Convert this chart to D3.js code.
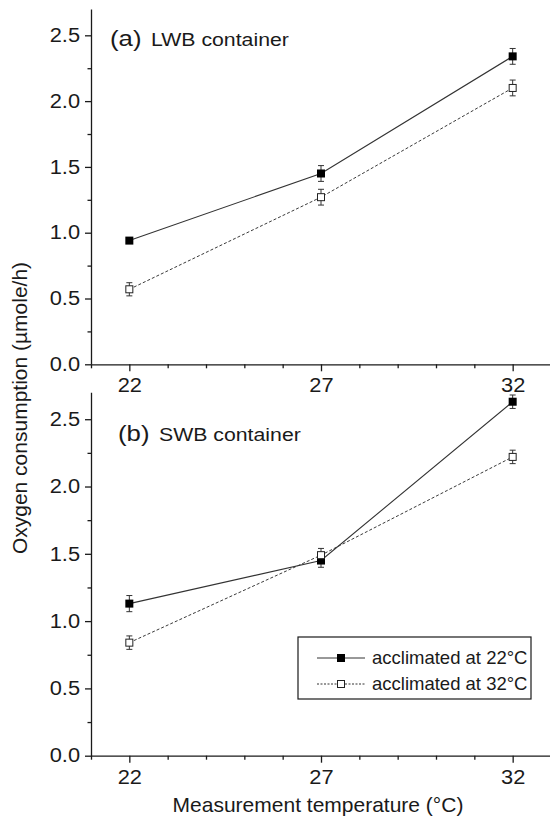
<!DOCTYPE html>
<html>
<head>
<meta charset="utf-8">
<script src="https://cdn.jsdelivr.net/npm/d3@7"></script>
<style>
  html, body { margin: 0; padding: 0; background: #fff; }
  svg { display: block; font-family: "Liberation Sans", Arial, Helvetica, sans-serif; }
</style>
</head>
<body>
<svg id="chart" width="550" height="820"></svg>
<script>
// Measurement temperatures (°C)
const temps = [22, 27, 32];

// (a) LWB container — oxygen consumption (µmole/h) and error
const lwbAcc22 = [0.94, 1.45, 2.34];
const lwbAcc22Err = [0.02, 0.06, 0.06];
const lwbAcc32 = [0.57, 1.27, 2.10];
const lwbAcc32Err = [0.05, 0.06, 0.06];

// (b) SWB container
const swbAcc22 = [1.13, 1.45, 2.63];
const swbAcc22Err = [0.06, 0.05, 0.05];
const swbAcc32 = [0.84, 1.49, 2.22];
const swbAcc32Err = [0.05, 0.05, 0.05];

const xMajorTicks = [22, 27, 32];
const xMinorTicks = [21, 23, 24, 25, 26, 28, 29, 30, 31, 33];
const yMajorTicks = [0, 0.5, 1.0, 1.5, 2.0, 2.5];
const yMinorTicks = [0.25, 0.75, 1.25, 1.75, 2.25];

const legendLabels = ["acclimated at 22°C", "acclimated at 32°C"];

const svg = d3.select("#chart");
const ink = "#1a1a1a";
const stretch = 1.12;

const x = d3.scaleLinear().domain([21, 33]).range([91, 551]);

const panels = [
  { label: "(a)", name: "LWB container", top: 9, bottom: 364.3,
    s22: lwbAcc22, e22: lwbAcc22Err, s32: lwbAcc32, e32: lwbAcc32Err, tag: [110, 46] },
  { label: "(b)", name: "SWB container", top: 392.3, bottom: 755.7,
    s22: swbAcc22, e22: swbAcc22Err, s32: swbAcc32, e32: swbAcc32Err, tag: [118, 441] }
];

function stretchedText(parent, tx, ty, txt, size, sx) {
  return parent.append("text")
    .attr("transform", `translate(${tx},${ty}) scale(${sx},1)`)
    .attr("font-size", size)
    .attr("fill", ink)
    .text(txt);
}

panels.forEach(p => {
  const y = d3.scaleLinear().domain([0, 2.7]).range([p.bottom, p.top]);
  const g = svg.append("g");

  // y axis: minor then major
  g.append("g").attr("transform", "translate(91,0)")
    .call(d3.axisLeft(y).tickValues(yMinorTicks).tickSize(3.5).tickFormat(""))
    .call(a => a.select(".domain").remove());
  const ya = g.append("g").attr("transform", "translate(91,0)")
    .call(d3.axisLeft(y).tickValues(yMajorTicks).tickSizeInner(6).tickSizeOuter(0)
      .tickPadding(3.8).tickFormat(d3.format(".1f")));
  ya.selectAll("text").attr("font-size", 19.5).attr("font-family", null)
    .attr("fill", ink).attr("transform", `scale(${stretch},1)`);

  // x axis: minor then major
  g.append("g").attr("transform", `translate(0,${p.bottom})`)
    .call(d3.axisBottom(x).tickValues(xMinorTicks).tickSize(4).tickFormat(""))
    .call(a => a.select(".domain").remove());
  const xa = g.append("g").attr("transform", `translate(0,${p.bottom})`)
    .call(d3.axisBottom(x).tickValues(xMajorTicks).tickSizeInner(7).tickSizeOuter(0)
      .tickPadding(7.2).tickFormat(d3.format("d")));
  xa.selectAll("text").attr("font-size", 19.5).attr("font-family", null)
    .attr("fill", ink).attr("transform", `scale(${stretch},1)`);

  g.selectAll(".domain, .tick line").attr("stroke", ink).attr("stroke-width", 1.3);

  // panel tag
  stretchedText(g, p.tag[0], p.tag[1], p.label, 23, 1.12);
  stretchedText(g, p.tag[0] + 41, p.tag[1], p.name, 18.5, 1.15);

  const line = d3.line().x((d, i) => x(temps[i])).y(d => y(d));

  g.append("path").datum(p.s32).attr("d", line)
    .attr("fill", "none").attr("stroke", "#3a3a3a").attr("stroke-width", 1)
    .attr("stroke-dasharray", "3,2");
  g.append("path").datum(p.s22).attr("d", line)
    .attr("fill", "none").attr("stroke", "#333").attr("stroke-width", 1.1);

  // error bars
  function errBars(vals, errs) {
    vals.forEach((v, i) => {
      const cx = x(temps[i]);
      const y1 = y(v + errs[i]), y2 = y(v - errs[i]);
      g.append("line").attr("x1", cx).attr("x2", cx).attr("y1", y1).attr("y2", y2)
        .attr("stroke", "#333").attr("stroke-width", 1);
      [y1, y2].forEach(yy => g.append("line")
        .attr("x1", cx - 3).attr("x2", cx + 3).attr("y1", yy).attr("y2", yy)
        .attr("stroke", "#333").attr("stroke-width", 1));
    });
  }
  errBars(p.s22, p.e22);
  errBars(p.s32, p.e32);

  // markers: filled first, open on top
  g.selectAll(".m22").data(p.s22).join("rect")
    .attr("x", (d, i) => x(temps[i]) - 4).attr("y", d => y(d) - 4)
    .attr("width", 8).attr("height", 8).attr("fill", "#000");
  g.selectAll(".m32").data(p.s32).join("rect")
    .attr("x", (d, i) => x(temps[i]) - 3.5).attr("y", d => y(d) - 3.5)
    .attr("width", 7).attr("height", 7).attr("fill", "#fff")
    .attr("stroke", "#222").attr("stroke-width", 1);
});

// axis titles
svg.append("text")
  .attr("transform", "translate(26.5,408) rotate(-90)")
  .attr("text-anchor", "middle").attr("font-size", 21).attr("fill", ink)
  .text("Oxygen consumption (µmole/h)");
svg.append("text")
  .attr("x", 318).attr("y", 812)
  .attr("text-anchor", "middle").attr("font-size", 21).attr("fill", ink)
  .text("Measurement temperature (°C)");

// legend
const lg = svg.append("g");
lg.append("rect").attr("x", 298).attr("y", 637).attr("width", 233).attr("height", 62)
  .attr("fill", "#fff").attr("stroke", ink).attr("stroke-width", 1.2);
const rows = [658, 684];
rows.forEach((ry, k) => {
  lg.append("line").attr("x1", 317).attr("x2", 365).attr("y1", ry).attr("y2", ry)
    .attr("stroke", "#333").attr("stroke-width", 1)
    .attr("stroke-dasharray", k === 1 ? "2,1.5" : null);
  if (k === 0) {
    lg.append("rect").attr("x", 337).attr("y", ry - 4).attr("width", 8).attr("height", 8)
      .attr("fill", "#000");
  } else {
    lg.append("rect").attr("x", 337.5).attr("y", ry - 3.5).attr("width", 7).attr("height", 7)
      .attr("fill", "#fff").attr("stroke", "#222").attr("stroke-width", 1);
  }
  lg.append("text").attr("x", 372).attr("y", ry).attr("dy", "0.35em")
    .attr("font-size", 18.5).attr("fill", ink).text(legendLabels[k]);
});
</script>
</body>
</html>
